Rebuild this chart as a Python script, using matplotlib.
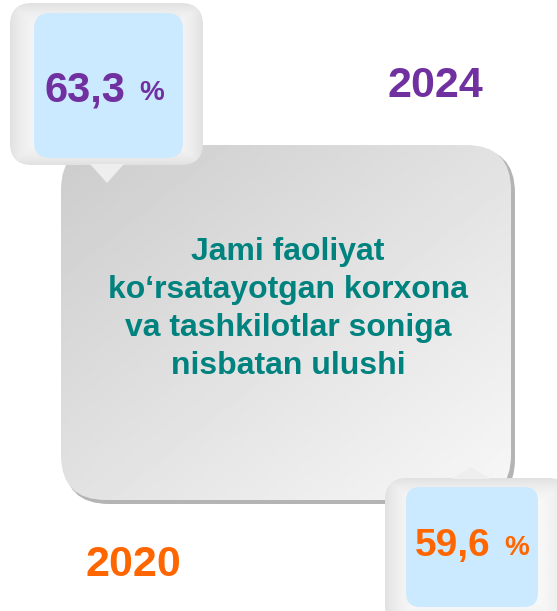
import numpy as np
import matplotlib.pyplot as plt
from matplotlib.patches import FancyBboxPatch, Polygon

plt.rcParams['font.family'] = ['Liberation Sans', 'DejaVu Sans']

# data
years = ['2024', '2020']
shares = [63.3, 59.6]
colors = ['#7030a0', '#ff6600']
title = "Jami faoliyat\nko\u2018rsatayotgan korxona\nva tashkilotlar soniga\nnisbatan ulushi"

W, H = 557, 611
fig = plt.figure(figsize=(W / 100, H / 100), dpi=100)
ax = fig.add_axes([0, 0, 1, 1])
ax.set_xlim(0, W)
ax.set_ylim(H, 0)
ax.axis('off')


def grad_box(x, y, w, h, r, img, z):
    p = FancyBboxPatch((x, y), w, h, boxstyle=f"round,pad=0,rounding_size={r}",
                       fc='none', ec='none', zorder=z)
    ax.add_patch(p)
    im = ax.imshow(img, extent=(x, x + w, y + h, y), cmap='gray', vmin=0, vmax=1,
                   zorder=z, interpolation='bilinear', aspect='auto')
    im.set_clip_path(p)


def vignette(n=200, c=0.985, e=0.88):
    u = np.linspace(-1, 1, n)
    U, V = np.meshgrid(u, u)
    m = np.maximum(np.abs(U), np.abs(V))
    return c - (c - e) * m ** 5


# central box with shadow
ax.add_patch(FancyBboxPatch((64, 148), 451, 356, boxstyle="round,pad=0,rounding_size=45",
                            fc='#b4b4b4', ec='none', zorder=1))
u = np.linspace(0, 1, 200)
U, V = np.meshgrid(u, u)
grad_box(61, 145, 450, 355, 45, 0.80 + 0.17 * (0.5 * U + 0.5 * V), 2)

# top-left callout
grad_box(10, 3, 193, 162, 22, vignette(), 3)
ax.add_patch(Polygon([(90, 164), (124, 164), (107, 183)], closed=True,
                     fc='#eeeeee', ec='none', zorder=3))
ax.add_patch(FancyBboxPatch((34, 13), 149, 145, boxstyle="round,pad=0,rounding_size=16",
                            fc='#cceaff', ec='none', zorder=4))

# bottom-right callout
grad_box(385, 478, 185, 150, 22, vignette(), 3)
ax.add_patch(Polygon([(452, 479), (490, 479), (471, 467)], closed=True,
                     fc='#eeeeee', ec='none', zorder=3))
ax.add_patch(FancyBboxPatch((406, 487), 132, 120, boxstyle="round,pad=0,rounding_size=14",
                            fc='#cceaff', ec='none', zorder=4))

# values
for v, col, (x, y), fs in zip(shares, colors, [(100, 91), (465, 546)], [30, 28]):
    s = f"{v:.1f}".replace('.', ',')
    ax.text(x + 25, y, s, ha='right', va='center', fontsize=fs,
            fontweight='bold', color=col, zorder=5)
    ax.text(x + 39, y + 2, '%', ha='left', va='center', fontsize=20,
            fontweight='bold', color=col, zorder=5)

# years
ax.text(435, 86, years[0], ha='center', va='center', fontsize=31,
        fontweight='bold', color=colors[0], zorder=5)
ax.text(133, 565, years[1], ha='center', va='center', fontsize=31,
        fontweight='bold', color=colors[1], zorder=5)

# title
ax.text(288, 309, title, ha='center', va='center', fontsize=23, fontweight='bold',
        color='#00827f', linespacing=1.36, zorder=5)

fig.savefig('out.png', dpi=100)
